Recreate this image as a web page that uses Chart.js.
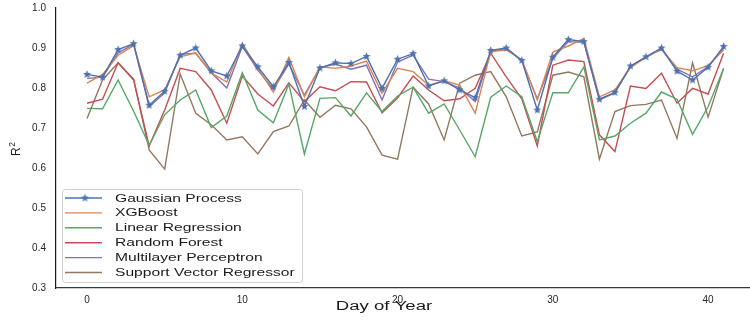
<!DOCTYPE html>
<html>
<head>
<meta charset="utf-8">
<script src="https://cdn.jsdelivr.net/npm/chart.js@4.4.1/dist/chart.umd.min.js"></script>
<style>
  body { margin: 0; background: #fff; }
  #wrap { width: 750px; height: 321px; }
</style>
</head>
<body>
<div id="wrap"><canvas id="chart1" width="750" height="321"></canvas></div>
<script>
"use strict";

// data
var days = [0, 1, 2, 3, 4, 5, 6, 7, 8, 9, 10, 11, 12, 13, 14, 15, 16, 17, 18, 19, 20,
            21, 22, 23, 24, 25, 26, 27, 28, 29, 30, 31, 32, 33, 34, 35, 36, 37, 38, 39, 40, 41];

var gaussianProcess = [0.834, 0.827, 0.896, 0.911, 0.757, 0.792, 0.882, 0.900, 0.843, 0.830,
                       0.905, 0.853, 0.803, 0.864, 0.754, 0.850, 0.863, 0.861, 0.879, 0.799,
                       0.872, 0.886, 0.805, 0.818, 0.795, 0.776, 0.894, 0.900, 0.869, 0.745,
                       0.877, 0.921, 0.916, 0.772, 0.789, 0.855, 0.878, 0.900, 0.842, 0.820,
                       0.852, 0.904];
var xgboost = [0.812, 0.834, 0.882, 0.906, 0.778, 0.795, 0.878, 0.888, 0.837, 0.815,
               0.911, 0.849, 0.790, 0.877, 0.778, 0.853, 0.849, 0.855, 0.867, 0.787,
               0.849, 0.841, 0.807, 0.818, 0.807, 0.737, 0.891, 0.895, 0.870, 0.770,
               0.890, 0.905, 0.924, 0.778, 0.795, 0.851, 0.877, 0.897, 0.851, 0.843,
               0.856, 0.895];
var linearRegression = [0.749, 0.748, 0.820, 0.742, 0.657, 0.733, 0.770, 0.795, 0.701, 0.730,
                        0.838, 0.745, 0.713, 0.810, 0.635, 0.774, 0.776, 0.730, 0.788, 0.741,
                        0.780, 0.802, 0.737, 0.760, 0.695, 0.628, 0.777, 0.805, 0.778, 0.666,
                        0.788, 0.788, 0.853, 0.670, 0.680, 0.712, 0.737, 0.790, 0.772, 0.684,
                        0.753, 0.849];
var randomForest = [0.762, 0.772, 0.863, 0.820, 0.655, 0.745, 0.849, 0.841, 0.795, 0.712,
                    0.830, 0.785, 0.755, 0.813, 0.766, 0.803, 0.793, 0.816, 0.815, 0.738,
                    0.775, 0.830, 0.795, 0.768, 0.773, 0.799, 0.887, 0.828, 0.773, 0.655,
                    0.857, 0.870, 0.866, 0.683, 0.641, 0.805, 0.799, 0.837, 0.762, 0.799,
                    0.785, 0.887];
var multilayerPerceptron = [0.824, 0.827, 0.888, 0.909, 0.753, 0.788, 0.884, 0.887, 0.838, 0.800,
                            0.904, 0.845, 0.797, 0.860, 0.782, 0.851, 0.860, 0.847, 0.857, 0.770,
                            0.865, 0.882, 0.822, 0.816, 0.800, 0.766, 0.891, 0.899, 0.868, 0.773,
                            0.874, 0.916, 0.914, 0.770, 0.788, 0.853, 0.877, 0.897, 0.847, 0.828,
                            0.853, 0.899];
var supportVector = [0.724, 0.820, 0.863, 0.822, 0.645, 0.597, 0.835, 0.737, 0.708, 0.670,
                     0.678, 0.635, 0.691, 0.705, 0.770, 0.727, 0.757, 0.748, 0.703, 0.632,
                     0.622, 0.802, 0.760, 0.670, 0.812, 0.832, 0.841, 0.778, 0.680, 0.690,
                     0.832, 0.840, 0.828, 0.622, 0.741, 0.756, 0.759, 0.770, 0.674, 0.863,
                     0.727, 0.849];

var seriesNames = ['Gaussian Process', 'XGBoost', 'Linear Regression', 'Random Forest',
                   'Multilayer Perceptron', 'Support Vector Regressor'];
var seriesValues = [gaussianProcess, xgboost, linearRegression, randomForest,
                    multilayerPerceptron, supportVector];
var xTicks = [0, 10, 20, 30, 40];

var colors = ['#4C72B0', '#DD8452', '#55A868', '#C44E52', '#8172B3', '#937860'];

// filled 5 point star, like matplotlib '*'
function makeStar(r, color) {
    var c = document.createElement('canvas');
    c.width = c.height = Math.ceil(r * 2 + 2);
    var g = c.getContext('2d');
    g.translate(c.width / 2, c.height / 2);
    g.beginPath();
    for (var k = 0; k < 10; k++) {
        var rad = k % 2 ? r * 0.45 : r;
        var a = -Math.PI / 2 + k * Math.PI / 5;
        g.lineTo(rad * Math.cos(a), rad * Math.sin(a));
    }
    g.closePath();
    g.fillStyle = color;
    g.fill();
    return c;
}
var star = makeStar(4.2, colors[0]);

function stretchText(ctx, text, x, y, sx, align) {
    ctx.save();
    ctx.translate(x, y);
    ctx.scale(sx, 1);
    var w = ctx.measureText(text).width;
    var off = align === 'center' ? -w / 2 : 0;
    ctx.fillText(text, off, 0);
    ctx.restore();
}

var fontFamily = '"Liberation Sans", Arial, sans-serif';

var decorations = {
    id: 'decorations',
    afterDraw: function (chart) {
        var ctx = chart.ctx;
        ctx.save();
        ctx.fillStyle = '#1a1a1a';
        ctx.textBaseline = 'alphabetic';

        // x title
        ctx.font = '12px ' + fontFamily;
        stretchText(ctx, 'Day of Year', 384, 310, 1.55, 'center');

        // y title R^2
        ctx.save();
        ctx.translate(20, 156);
        ctx.rotate(-Math.PI / 2);
        ctx.font = '12px ' + fontFamily;
        ctx.fillText('R', 0, 0);
        var rw = ctx.measureText('R').width;
        ctx.font = '8.5px ' + fontFamily;
        ctx.fillText('2', rw + 0.5, -5.5);
        ctx.restore();

        // legend
        var lx = 62, ly = 189, lw = 240, lh = 93;
        ctx.beginPath();
        ctx.roundRect(lx + 0.5, ly + 0.5, lw, lh, 3);
        ctx.fillStyle = 'rgba(255,255,255,0.85)';
        ctx.fill();
        ctx.strokeStyle = '#d0d0d0';
        ctx.lineWidth = 1;
        ctx.stroke();

        ctx.font = '11px ' + fontFamily;
        ctx.textBaseline = 'middle';
        for (var i = 0; i < seriesNames.length; i++) {
            var ry = 198 + i * 14.9;
            ctx.beginPath();
            ctx.moveTo(65, ry);
            ctx.lineTo(102, ry);
            ctx.strokeStyle = colors[i];
            ctx.lineWidth = 1.4;
            ctx.stroke();
            if (i === 0) {
                ctx.drawImage(star, 85 - star.width / 2, ry - star.height / 2);
            }
            ctx.fillStyle = '#1a1a1a';
            stretchText(ctx, seriesNames[i], 115, ry + 0.5, 1.42, 'left');
        }
        ctx.restore();
    }
};

var ctx = document.getElementById('chart1').getContext('2d');

var datasets = seriesNames.map(function (name, i) {
    return {
        label: name,
        data: seriesValues[i],
        borderColor: colors[i],
        backgroundColor: colors[i],
        borderWidth: 1.4,
        tension: 0,
        fill: false,
        pointRadius: i === 0 ? 4 : 0,
        pointStyle: i === 0 ? star : 'circle',
        pointHoverRadius: 0
    };
});

var myChart = new Chart(ctx, {
    type: 'line',
    data: {
        labels: days,
        datasets: datasets
    },
    options: {
        responsive: false,
        animation: false,
        layout: {
            autoPadding: false,
            padding: { top: 8, right: 0, left: 0, bottom: 0 }
        },
        plugins: {
            legend: { display: false },
            tooltip: { enabled: false }
        },
        scales: {
            x: {
                type: 'linear',
                min: -2,
                max: 42.7,
                grid: { display: false, drawTicks: false },
                border: { display: true, color: '#3a3a3a', width: 1.2 },
                afterBuildTicks: function (scale) {
                    scale.ticks = xTicks.map(function (v) { return { value: v }; });
                },
                afterFit: function (scale) {
                    scale.height = 33;
                    scale.paddingLeft = 0;
                    scale.paddingRight = 0;
                },
                ticks: {
                    padding: 6,
                    color: '#262626',
                    font: { family: fontFamily, size: 10 },
                    maxRotation: 0
                }
            },
            y: {
                min: 0.3,
                max: 1.0,
                grid: { display: false, drawTicks: false },
                border: { display: true, color: '#1a1a1a', width: 1.2 },
                afterFit: function (scale) {
                    scale.width = 56;
                    scale.paddingTop = 0;
                    scale.paddingBottom = 0;
                },
                ticks: {
                    stepSize: 0.1,
                    padding: 10,
                    color: '#262626',
                    font: { family: fontFamily, size: 10 },
                    callback: function (v) { return v.toFixed(1); }
                }
            }
        }
    },
    plugins: [decorations]
});
</script>
</body>
</html>
